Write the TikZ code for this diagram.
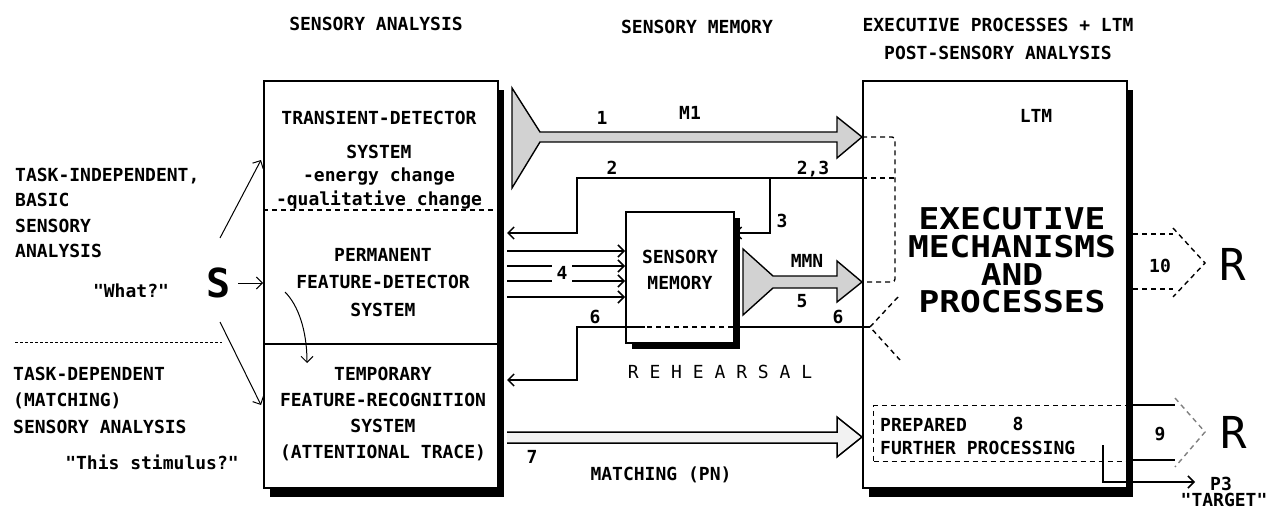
\documentclass[tikz,border=0pt]{standalone}
\usepackage{fontspec}
\usepackage{graphicx}
\setmainfont{DejaVu Sans Mono}[Ligatures=TeXOff]
\usetikzlibrary{arrows.meta,shadows}
\begin{document}
\begin{tikzpicture}[x=1pt,y=-1pt,
  every node/.style={inner sep=0pt},
  txt/.style={font=\bfseries\fontsize{18}{26}\selectfont, align=center},
  lbl/.style={font=\bfseries\fontsize{18}{26}\selectfont, anchor=base},
  box/.style={draw, fill=white, line width=1.6pt},
  shadA/.style={drop shadow={shadow xshift=6.5pt, shadow yshift=-9pt, fill=black, opacity=1}},
  shadB/.style={drop shadow={shadow xshift=6.5pt, shadow yshift=-6.5pt, fill=black, opacity=1}},
  ln/.style={line width=1.5pt},
  thinln/.style={line width=1pt},
  tip/.style={-{Straight Barb[length=6pt,width=12pt]}},
  arr/.style={ln, tip},
  dsh/.style={line width=1.4pt, dash pattern=on 5pt off 4pt},
  funnel/.style={draw, line width=1.4pt, fill=gray!35},
  big/.style={font=\bfseries\fontsize{30}{27.7}\selectfont, align=center},
]
\useasboundingbox (0,0) rectangle (1267,508);

% ---------- boxes ----------
\node[box, shadA, minimum width=234pt, minimum height=407pt, anchor=north west] (sa) at (263,80) {};
\node[box, shadA, minimum width=264pt, minimum height=407pt, anchor=north west] (ex) at (862,80) {};
\node[box, shadB, minimum width=108pt, minimum height=131pt, anchor=north west] (sm) at (625,211) {};
\draw[dsh] (263,210) -- (497,210);
\draw[ln] (263,344) -- (497,344);
\node[draw, dsh, minimum width=253pt, minimum height=56pt, anchor=north west] (pfp) at (873,405) {};

% ---------- headers ----------
\node[lbl] (hsa) at (376,31) {SENSORY ANALYSIS};
\node[lbl] (hsm) at (697,34) {SENSORY MEMORY};
\node[txt] (hex) at (998,39) {EXECUTIVE PROCESSES + LTM\\[2pt]POST-SENSORY ANALYSIS};

% ---------- left side ----------
\node[txt, align=left, anchor=west, font=\bfseries\fontsize{18}{25.4}\selectfont] (ti) at (15,213) {TASK-INDEPENDENT,\\BASIC\\SENSORY\\ANALYSIS};
\node[lbl] (what) at (131,297.5) {"What?"};
\node[font=\bfseries\fontsize{40}{40}\selectfont] (S) at (219,283) {S};
\draw[thinln, dash pattern=on 3pt off 2pt] (15,342) -- (222,342);
\node[txt, align=left, anchor=west, font=\bfseries\fontsize{18}{26.5}\selectfont] (td) at (13,400) {TASK-DEPENDENT\\(MATCHING)\\SENSORY ANALYSIS};
\node[lbl] (this) at (152,469.5) {"This stimulus?"};

\coordinate (d1s) at (220,238);
\coordinate (d1e) at (261,160);
\coordinate (d2s) at (220,322);
\coordinate (d2e) at (261,405);
\draw[thinln, tip] (d1s) -- (d1e);
\draw[thinln, tip] (d2s) -- (d2e);
\draw[thinln, tip] ([xshift=7pt]S.east) -- (S -| sa.west);
\coordinate (cvs) at (285,292);
\coordinate (cve) at (307,363);
\draw[thinln, tip] (cvs) .. controls (298,305) and (307,330) .. (cve);

% ---------- left box texts ----------
\node[txt, font=\bfseries\fontsize{18}{23.5}\selectfont] (tds) at (379,160) {TRANSIENT-DETECTOR\\[10pt]SYSTEM\\-energy change\\-qualitative change};
\node[txt, font=\bfseries\fontsize{18}{27.5}\selectfont] (pfd) at (383,282.5) {PERMANENT\\FEATURE-DETECTOR\\SYSTEM};
\node[txt, font=\bfseries\fontsize{18}{25.7}\selectfont] (tfr) at (383,414) {TEMPORARY\\FEATURE-RECOGNITION\\SYSTEM\\(ATTENTIONAL TRACE)};
\node[txt] (smt) at (680,270) {SENSORY\\MEMORY};

% ---------- M1 funnel (1) ----------
\draw[funnel] (512,88) -- (540,132) -- (837,132) -- (837,117) -- (ex.west |- 0,137) -- (837,158) -- (837,142) -- (540,142) -- (512,188) -- cycle;
\node[lbl] (n1) at (602,124.5) {1};
\node[lbl] (m1) at (690,119.5) {M1};

% ---------- line 2 and 3 ----------
\coordinate (l2r) at (862,178);
\coordinate (l2k) at (577,178);
\coordinate (l2e) at (507,233);
\coordinate (l3k) at (770,178);
\draw[arr] (l2r) -- (l2k) -- (l2k |- l2e) -- (l2e);
\draw[arr] (l3k) -- (770,233) -- (sm.east |- 0,233);
\node[lbl] (n2) at (612,175) {2};
\node[lbl] (n23) at (813,175) {2,3};
\node[lbl] (n3) at (782,227) {3};

% dashed bracket inside executive box
\draw[dsh, rounded corners=3pt] (862,137) -- (895,137) -- (895,282) -- (862,282);
\draw[dsh] (862,178) -- (895,178);

% ---------- lines 4 ----------
\foreach \yy in {251,266,281,297} {
  \draw[arr] (507,\yy) -- (sm.west |- 0,\yy);
}
\node[lbl, fill=white, inner xsep=5pt, inner ysep=4pt] (n4) at (562,279) {4};

% ---------- MMN funnel (5) ----------
\draw[funnel] (743,249) -- (773,276) -- (837,276) -- (837,261) -- (ex.west |- 0,282) -- (837,302) -- (837,288) -- (773,288) -- (743,315) -- cycle;
\node[lbl] (mmn) at (807,267) {MMN};
\node[lbl] (n5) at (802,307) {5};

% ---------- line 6 ----------
\coordinate (l6r) at (870,327);
\coordinate (l6k) at (577,327);
\coordinate (l6e) at (507,380);
\draw[dsh] (898,297) -- (l6r) -- (900,360);
\draw[ln] (l6r) -- (740,327);
\draw[dsh] (733,327) -- (645,327);
\draw[arr] (645,327) -- (l6k) -- (l6k |- l6e) -- (l6e);
\node[lbl] (n6a) at (595,323) {6};
\node[lbl] (n6b) at (838,323) {6};
\node[font=\fontsize{18}{20}\selectfont, anchor=base] (reh) at (720,378) {R E H E A R S A L};

% ---------- line 7 ----------
\draw[ln, fill=gray!10] (507,432) -- (837,432) -- (837,417) -- (ex.west |- 0,437) -- (837,457) -- (837,443) -- (507,443);
\node[lbl] (n7) at (532,463) {7};
\node[lbl] (mpn) at (661,480) {MATCHING (PN)};

% ---------- executive box texts ----------
\node[lbl] (ltm) at (1036,123) {LTM};
\node[big] (exm) at (1012,260.5) {\scalebox{1.15}[1]{EXECUTIVE}\\\scalebox{1.15}[1]{MECHANISMS}\\\scalebox{1.15}[1]{AND}\\\scalebox{1.15}[1]{PROCESSES}};
\node[lbl, anchor=base west] (prep) at (880,431) {PREPARED};
\node[lbl] (n8) at (1018,430) {8};
\node[lbl, anchor=base west] (furt) at (880,454) {FURTHER PROCESSING};

% ---------- output 10 ----------
\draw[dsh] (1133,234) -- (1173,234);
\draw[dsh] (1173,228) -- (1205,263) -- (1173,297);
\draw[dsh] (1133,289) -- (1173,289);
\node[lbl] (n10) at (1160,272) {10};
\node[font=\fontsize{44}{44}\selectfont, anchor=base] (r1) at (1233,280) {R};

% ---------- output 9 ----------
\draw[ln] (1133,405) -- (1175,405);
\draw[ln] (1133,460) -- (1175,460);
\draw[dsh, gray] (1175,398) -- (1205,432) -- (1175,467);
\node[lbl] (n9) at (1160,440) {9};
\node[font=\fontsize{44}{44}\selectfont, anchor=base] (r2) at (1234,448) {R};

% ---------- P3 ----------
\coordinate (p3s) at (1103,445);
\coordinate (p3e) at (1195,482);
\draw[arr] (p3s) -- (p3s |- p3e) -- (p3e);
\node[lbl] (p3) at (1221,490) {P3};
\node[lbl] (tgt) at (1224,506) {"TARGET"};
\end{tikzpicture}
\end{document}
